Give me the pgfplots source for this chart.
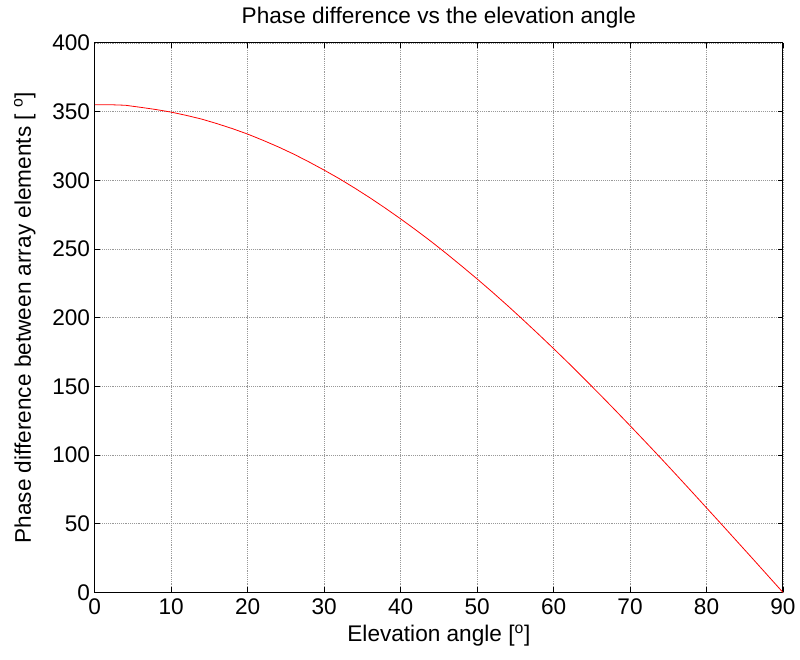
\documentclass[border=0pt]{standalone}
\usepackage{fontspec}
\setmainfont{Liberation Sans}
\usepackage{pgfplots}
\pgfplotsset{compat=1.18}

\begin{document}
\begin{tikzpicture}
\begin{axis}[
  scale only axis,
  width=517.5pt, height=413.25pt,
  xmin=0, xmax=90,
  ymin=0, ymax=400,
  xtick={0,10,...,90},
  ytick={0,50,...,400},
  tick align=inside,
  major tick length=4pt,
  tick style={black, line width=0.6pt},
  axis line style={black, line width=0.75pt},
  grid=major,
  major grid style={densely dotted, gray!80, line width=0.5pt},
  /pgf/number format/assume math mode=true,
  ticklabel style={font=\fontsize{17}{20}\selectfont},
  xticklabel style={yshift=-1pt},
  title={Phase difference vs the elevation angle},
  every axis title/.style={at={(axis description cs:0.5,1.045)}, anchor=center,
    font=\fontsize{17}{20}\selectfont},
  xlabel={Elevation angle [\textsuperscript{o}]},
  ylabel={Phase difference between array elements [ \textsuperscript{o}]},
  every axis x label/.style={at={(axis description cs:0.5,-0.078)}, anchor=center,
    font=\fontsize{17}{20}\selectfont},
  every axis y label/.style={at={(axis description cs:-0.1015,0.5)}, rotate=90,
    anchor=center, font=\fontsize{17}{20}\selectfont},
]
% phase difference (deg) vs elevation angle (deg)
\addplot[red, line width=0.6pt] coordinates {
  (0,355.0) (2,355.0) (4,354.6) (6,353.1) (8,351.5) (10,349.6)
  (12,347.2) (14,344.5) (16,341.2) (18,337.6) (20,333.6)
  (22,329.1) (24,324.3) (26,319.1) (28,313.4) (30,307.4)
  (32,301.1) (34,294.3) (36,287.2) (38,279.7) (40,271.9)
  (42,263.8) (44,255.4) (46,246.6) (48,237.5) (50,228.2)
  (52,218.6) (54,208.7) (56,198.5) (58,188.1) (60,177.5)
  (62,166.7) (64,155.6) (66,144.4) (68,133.0) (70,121.4)
  (72,109.7) (74,97.9) (76,85.9) (78,73.8) (80,61.6)
  (82,49.4) (84,37.1) (86,24.8) (88,12.4) (90,0)
};
\end{axis}
% fix the page to the reference margins
\path (current axis.south west) ++(-71.25pt,-50.25pt);
\path (current axis.north east) ++(11.25pt,32.25pt);
\end{tikzpicture}
\end{document}
